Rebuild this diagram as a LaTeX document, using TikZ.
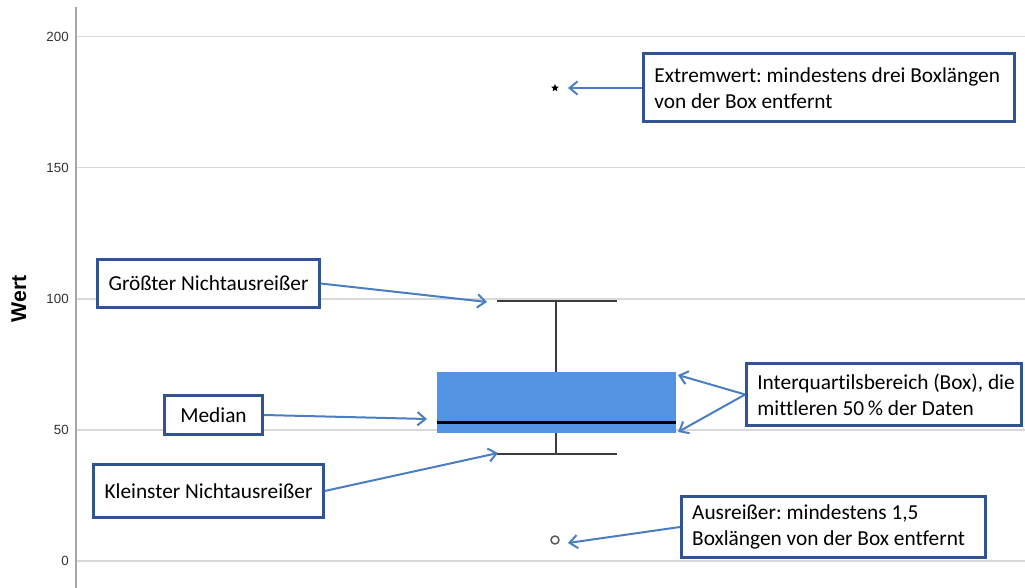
\documentclass[tikz,border=0pt]{standalone}
\usepackage{fontspec}
\setmainfont{Carlito}[Ligatures = NoCommon]
\newfontfamily\axisfont{Liberation Sans}
\usetikzlibrary{arrows.meta, shapes.geometric}
\definecolor {notecol}{RGB}{50,84,142}
\definecolor {arrowcol}{RGB}{74,126,193}
\definecolor {boxfill}{RGB}{83,148,226}
\definecolor {gridcol}{RGB}{217,217,217}
\definecolor {axiscol}{RGB}{166,166,166}
\definecolor {whiskcol}{RGB}{60,60,60}
\frenchspacing

\begin{document}
\begin{tikzpicture}[x = 0.75pt, y = -0.75pt,
        note/.style ={rectangle, draw = notecol, line width = 2.25pt, fill = white,
        inner xsep = 8pt, inner ysep = 0pt, align = flush left, font = \fontsize{16}{19.5}\selectfont},
        pointer/.style ={draw = arrowcol, line width = 1.5pt, -{Straight Barb[length = 6pt, width = 10pt]}},
        gridline/.style ={draw = gridcol, line width = 1.1pt},
        tick/.style ={anchor = east, inner sep = 0pt, text = black!80, font = \axisfont\fontsize{10}{12}\selectfont},
        whisker/.style ={draw = whiskcol, line width = 1.2pt}]

        \useasboundingbox (0, 0) rectangle (1025, 588);

        % ejes y rejilla
        \foreach \yy/\val in {36.5/200, 167.5/150, 299/100, 430/50, 561/0} {
            \draw[gridline] (76, \yy) -- (1025, \yy);
            \node[tick] at (69, \yy) {\val};
        }
        \draw[axiscol, line width = 1.2pt] (76, 7) -- (76, 588);
        \node[rotate = 90, font = \axisfont\bfseries\fontsize{16}{18}\selectfont] (ylab) at (19, 299) {Wert};

        % caja y bigotes
        \fill[boxfill] (437, 372) rectangle (676, 433);
        \draw[black, line width = 2.25pt] (437, 422) -- (676, 422);
        \draw[whisker] (556, 301) -- (556, 372);
        \draw[whisker] (497, 301) -- (617, 301);
        \draw[whisker] (556, 433) -- (556, 454);
        \draw[whisker] (497, 454) -- (617, 454);
        \node[star, star points = 5, star point ratio = 2.2, fill = black, inner sep = 0pt, minimum size = 6pt] (extpt) at (555, 88) {};
        \node[circle, draw = black!65, line width = 1.1pt, inner sep = 0pt, minimum size = 6pt] (outpt) at (555, 540) {};

        % puntas de las flechas
        \coordinate (extend) at (568, 88);
        \coordinate (outend) at (568, 543);
        \coordinate (maxend) at (487, 302);
        \coordinate (medend) at (427, 419);
        \coordinate (minend) at (498, 453);
        \coordinate (q3end) at (678, 375);
        \coordinate (q1end) at (678, 432);

        % recuadros
        \node[note, text width = 262pt, minimum height = 51pt] (ext) at (829, 88)
            {Extremwert: mindestens drei Boxlängen\\von der Box entfernt};
        \node[note, text width = 190pt, minimum height = 46.5pt] (iqr) at (884, 394.5)
            {\mbox{Interquartilsbereich (Box), die}\\mittleren 50\,\% der Daten};
        \node[note, text width = 212pt, minimum height = 45.75pt] (out) at (833.5, 527)
            {Ausreißer: mindestens 1,5\\Boxlängen von der Box entfernt};
        \node[note, align = center, minimum width = 163.5pt, minimum height = 36pt] (maxn) at (208.5, 283.5)
            {Größter Nichtausreißer};
        \node[note, align = center, minimum width = 73.5pt, minimum height = 29.25pt] (med) at (213.5, 415)
            {Median};
        \node[note, align = center, minimum width = 171pt, minimum height = 39.75pt] (minn) at (208.5, 491)
            {Kleinster Nichtausreißer};

        \path (ext.west) edge[pointer] (extend);
        \path (out.west) edge[pointer] (outend);
        \path (maxn.east) edge[pointer] (maxend);
        \path (med.east) edge[pointer] (medend);
        \path (minn.east) edge[pointer] (minend);
        \path (iqr.west) edge[pointer] (q3end);
        \path (iqr.west) edge[pointer] (q1end);
    \end{tikzpicture}
\end{document}
